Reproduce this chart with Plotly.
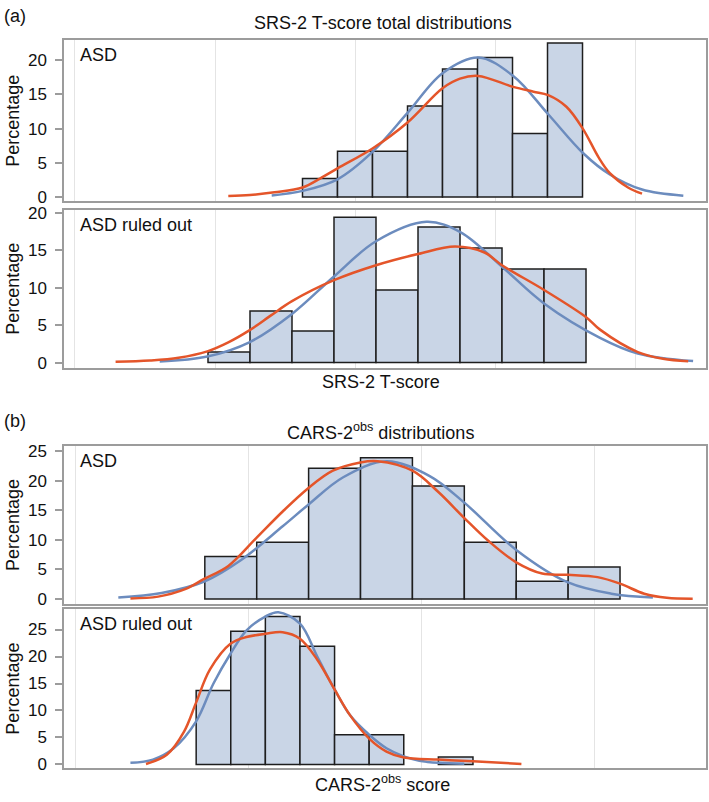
import plotly.graph_objects as go

FONT = "Liberation Sans, Arial, Helvetica, sans-serif"
W, H = 709, 802

# ---------------- data ----------------
# (a) SRS-2 T-score, ASD
srs_asd_mid = [55, 60, 65, 70, 75, 80, 85, 90]
srs_asd_pct = [2.7, 6.7, 6.7, 13.3, 18.7, 20.4, 9.3, 22.5]
srs_asd_norm_x = [48.1, 52.5, 57.5, 62.5, 67.5, 72.5, 77.6, 82.6, 87.6, 92.6, 96.4, 101.0, 106.9]
srs_asd_norm_y = [0.24, 0.9, 2.6, 6.6, 12.3, 18.1, 20.4, 17.7, 12.1, 6.4, 3.3, 1.1, 0.2]
srs_asd_kde_x = [41.9, 45.0, 48.5, 52.5, 55.0, 57.5, 62.5, 67.5, 72.5, 75.0, 77.6, 82.6, 85.5, 87.6, 90.2, 92.6, 94.8, 96.4, 99.0, 101.0]
srs_asd_kde_y = [0.15, 0.3, 0.7, 1.4, 2.7, 4.2, 7.1, 10.9, 15.9, 17.3, 17.7, 16.1, 15.4, 14.9, 13.2, 9.9, 5.8, 3.5, 1.4, 0.5]

# (a) SRS-2 T-score, ASD ruled out
srs_ro_mid = [42, 48, 54, 60, 66, 72, 78, 84, 90]
srs_ro_pct = [1.4, 6.9, 4.2, 19.4, 9.7, 18.1, 15.3, 12.5, 12.5]
srs_ro_norm_x = [32.1, 38.9, 44.9, 51.0, 57.0, 63.0, 70.2, 75.1, 81.0, 87.0, 95.0, 100.4, 108.3]
srs_ro_norm_y = [0.13, 0.8, 2.7, 6.5, 11.5, 16.2, 18.8, 17.4, 12.8, 7.9, 3.3, 1.2, 0.2]
srs_ro_kde_x = [25.8, 30.7, 34.8, 38.9, 41.9, 44.9, 48.0, 51.0, 57.0, 63.0, 69.0, 74.3, 78.5, 81.0, 87.0, 93.1, 95.0, 100.4, 104.0, 107.6]
srs_ro_kde_y = [0.1, 0.28, 0.65, 1.5, 2.7, 4.3, 6.3, 8.2, 11.0, 13.0, 14.5, 15.5, 14.7, 13.0, 9.7, 6.0, 4.4, 1.4, 0.5, 0.17]

# (b) CARS-2obs, ASD
cars_asd_mid = [19, 22, 25, 28, 31, 34, 37, 40]
cars_asd_pct = [7.2, 9.6, 22.1, 23.9, 19.1, 9.6, 3.0, 5.4]
cars_asd_norm_x = [12.5, 15.0, 17.5, 19.6, 22.0, 23.5, 25.5, 28.0, 30.5, 32.5, 35.5, 38.5, 41.0, 43.4]
cars_asd_norm_y = [0.25, 1.0, 3.0, 6.6, 12.3, 16.0, 20.6, 23.3, 20.8, 16.3, 8.3, 2.8, 0.9, 0.25]
cars_asd_kde_x = [13.2, 14.8, 16.4, 17.46, 18.86, 20.47, 22.0, 23.46, 24.9, 26.49, 27.5, 29.5, 31.0, 32.5, 33.9, 35.5, 37.0, 38.5, 40.2, 41.5, 42.9, 44.2, 45.7]
cars_asd_kde_y = [0.1, 0.4, 1.7, 3.4, 5.6, 10.3, 14.8, 18.7, 21.7, 23.1, 23.3, 21.7, 18.1, 13.7, 9.8, 6.2, 4.3, 4.1, 3.7, 2.6, 0.9, 0.2, 0.05]

# (b) CARS-2obs, ASD ruled out (bin at 30 is empty)
cars_ro_mid = [18, 20, 22, 24, 26, 28, 32]
cars_ro_pct = [13.7, 24.7, 27.4, 21.9, 5.5, 5.5, 1.4]
cars_ro_norm_x = [13.2, 14.5, 15.7, 17.0, 18.0, 19.0, 19.9, 21.0, 21.75, 23.0, 24.0, 25.0, 25.9, 27.0, 28.0, 29.0, 29.9, 31.0, 32.5]
cars_ro_norm_y = [0.3, 0.9, 3.0, 8.0, 15.0, 20.6, 24.8, 27.4, 28.2, 26.1, 20.0, 13.9, 9.1, 5.5, 3.0, 1.5, 0.7, 0.3, 0.15]
cars_ro_kde_x = [14.1, 15.3, 16.3, 17.0, 17.8, 19.0, 19.9, 21.0, 22.0, 23.0, 24.0, 25.0, 25.9, 27.0, 28.0, 29.0, 31.0, 33.0, 35.8]
cars_ro_kde_y = [0.1, 1.8, 6.1, 11.5, 17.6, 22.4, 23.6, 24.2, 24.5, 23.3, 19.4, 13.9, 9.1, 4.8, 2.4, 1.3, 0.9, 0.6, 0.1]

# ---------------- styling ----------------
BAR_FILL = "#C9D5E6"
BAR_LINE = "#1e1e1e"
NORM_COL = "#6C8CBE"
KDE_COL = "#E4552A"
FRAME = "#9c9c9c"
GRID = "#e4e4e4"

def px_x(p):
    return p / W

def px_y(p):
    return 1 - p / H

X_DOM = [px_x(64), px_x(706)]

panels = [
    dict(mid=srs_asd_mid, pct=srs_asd_pct, bw=5, nx=srs_asd_norm_x, ny=srs_asd_norm_y,
         kx=srs_asd_kde_x, ky=srs_asd_kde_y, top=35, bot=198, yr=[-0.58, 22.88],
         xr=[18.43, 110.14], grid=[20, 40, 60, 80, 100], yt=[0, 5, 10, 15, 20], label="ASD"),
    dict(mid=srs_ro_mid, pct=srs_ro_pct, bw=6, nx=srs_ro_norm_x, ny=srs_ro_norm_y,
         kx=srs_ro_kde_x, ky=srs_ro_kde_y, top=207, bot=367, yr=[-0.66, 20.39],
         xr=[18.43, 110.14], grid=[20, 40, 60, 80, 100], yt=[0, 5, 10, 15, 20], label="ASD ruled out"),
    dict(mid=cars_asd_mid, pct=cars_asd_pct, bw=3, nx=cars_asd_norm_x, ny=cars_asd_norm_y,
         kx=cars_asd_kde_x, ky=cars_asd_kde_y, top=447, bot=607, yr=[-0.83, 25.83],
         xr=[9.36, 46.47], grid=[10, 20, 30, 40], yt=[0, 5, 10, 15, 20, 25], label="ASD"),
    dict(mid=cars_ro_mid, pct=cars_ro_pct, bw=2, nx=cars_ro_norm_x, ny=cars_ro_norm_y,
         kx=cars_ro_kde_x, ky=cars_ro_kde_y, top=612, bot=774, yr=[-0.73, 28.83],
         xr=[9.36, 46.47], grid=[10, 20, 30, 40], yt=[0, 5, 10, 15, 20, 25], label="ASD ruled out"),
]

fig = go.Figure()
layout = dict(
    width=W, height=H, autosize=False,
    margin=dict(l=0, r=0, t=0, b=0),
    paper_bgcolor="white", plot_bgcolor="white",
    showlegend=False,
    font=dict(family=FONT, size=18, color="#111"),
    annotations=[],
)

for i, p in enumerate(panels, start=1):
    xa = "x" if i == 1 else f"x{i}"
    ya = "y" if i == 1 else f"y{i}"
    fig.add_trace(go.Bar(x=p["mid"], y=p["pct"], width=p["bw"], xaxis=xa, yaxis=ya,
                         marker=dict(color=BAR_FILL, line=dict(color=BAR_LINE, width=1.5)),
                         hoverinfo="skip"))
    fig.add_trace(go.Scatter(x=p["nx"], y=p["ny"], mode="lines", xaxis=xa, yaxis=ya,
                             line=dict(color=NORM_COL, width=2.5, shape="spline", smoothing=1.0)))
    fig.add_trace(go.Scatter(x=p["kx"], y=p["ky"], mode="lines", xaxis=xa, yaxis=ya,
                             line=dict(color=KDE_COL, width=2.5, shape="spline", smoothing=1.0)))
    xkey = "xaxis" if i == 1 else f"xaxis{i}"
    ykey = "yaxis" if i == 1 else f"yaxis{i}"
    layout[xkey] = dict(domain=X_DOM, range=p["xr"], anchor=ya, tickvals=p["grid"],
                        showticklabels=False, ticks="", showgrid=True, gridcolor=GRID, gridwidth=1,
                        showline=True, linecolor=FRAME, linewidth=1.5, mirror=True, zeroline=False,
                        fixedrange=True)
    layout[ykey] = dict(domain=[px_y(p["bot"]), px_y(p["top"])], range=p["yr"], anchor=xa,
                        tickvals=p["yt"], ticks="outside", ticklen=7, tickwidth=1.5, tickcolor=FRAME,
                        ticklabelstandoff=5,
                        tickfont=dict(size=17, color="#111", family=FONT),
                        showgrid=False, showline=True, linecolor=FRAME, linewidth=1.5, mirror=True,
                        zeroline=False, fixedrange=True)
    # panel label
    layout["annotations"].append(dict(text=p["label"], xref="paper", yref="paper",
                                      x=px_x(78), y=px_y((p["top"] + 15)), xanchor="left", yanchor="middle",
                                      showarrow=False, font=dict(size=18, color="#111", family=FONT)))
    # y title
    layout["annotations"].append(dict(text="Percentage", xref="paper", yref="paper",
                                      x=px_x(13), y=px_y((p["top"] + p["bot"]) / 2), textangle=-90,
                                      xanchor="center", yanchor="middle", showarrow=False,
                                      font=dict(size=18, color="#111", family=FONT)))

texts = [
    ("(a)", 2, 10, "left"),
    ("SRS-2 T-score total distributions", 383, 17, "center"),
    ("SRS-2 T-score", 381, 382, "center"),
    ("(b)", 2, 421, "left"),
    ("CARS-2<sup>obs</sup> distributions", 380, 432, "center"),
    ("CARS-2<sup>obs</sup> score", 382, 789, "center"),
]
for t, x, y, anc in texts:
    layout["annotations"].append(dict(text=t, xref="paper", yref="paper", x=px_x(x), y=px_y(y),
                                      xanchor=anc, yanchor="middle", showarrow=False,
                                      font=dict(size=18, color="#111", family=FONT)))

fig.update_layout(**layout)
fig.write_html("out.html", config={"displayModeBar": False},
               post_script="document.body.style.margin='0';document.body.style.overflow='hidden';")
